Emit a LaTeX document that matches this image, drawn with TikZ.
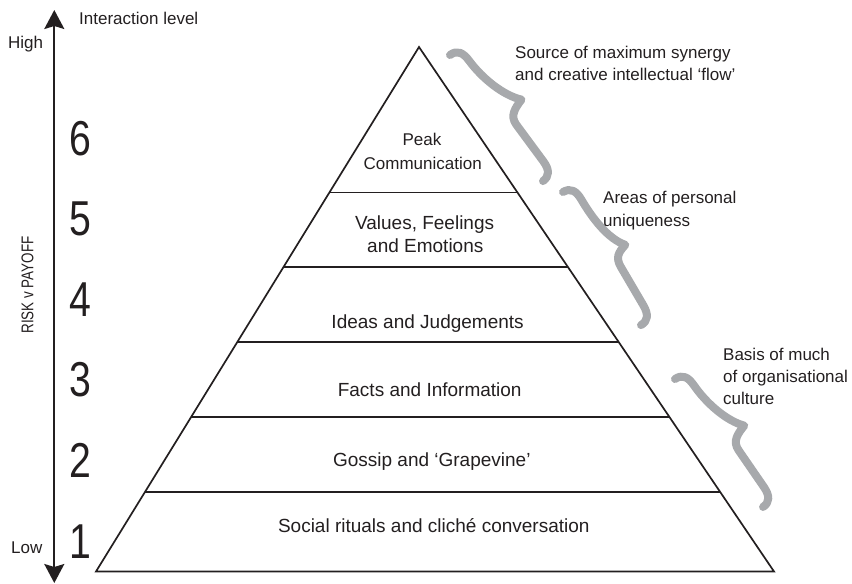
\documentclass[tikz,border=0pt]{standalone}
\usepackage{fontspec}
\setmainfont{Liberation Sans}
\usetikzlibrary{arrows.meta,calc}
\definecolor{ink}{HTML}{231F20}
\definecolor{bracegray}{HTML}{A7A9AC}
\newcommand\mybrace[2]{%
 \draw[bracestroke] (0,0) .. controls (0,9) and (6,12) .. (16,12)
   .. controls ({#1/2-40},12) and ({#1/2-14},{#2-12}) .. ({#1/2},#2)
   .. controls ({#1/2+3},{#2-10}) and ({#1/2+6},12) .. ({#1/2+17},12)
   -- ({#1-16},12) .. controls ({#1-5},12) and (#1,8) .. (#1,0);}
\tikzset{
 txt/.style={font=\fontsize{17}{20}\selectfont, text=ink, inner sep=0pt},
 bigtxt/.style={font=\fontsize{19}{22}\selectfont, text=ink, inner sep=0pt},
 digit/.style={font=\fontsize{49}{49}\selectfont, text=ink, inner sep=0pt, anchor=base},
 pyr/.style={draw=ink, line width=1.7pt, line join=miter},
 bracestroke/.style={draw=bracegray, line width=8pt, line cap=round, line join=round},
 axisline/.style={draw=ink, line width=2pt}
}
\begin{document}
\begin{tikzpicture}[x=1pt,y=-1pt]
\useasboundingbox (0,0) rectangle (852,584);
% axis
\coordinate (axtop) at (54.3,10);
\coordinate (axbot) at (54.3,583);
\draw[axisline,{Stealth[length=19pt,width=20pt,inset=3pt]}-{Stealth[length=19pt,width=20pt,inset=3pt]}] (axtop) -- (axbot);
\node[txt,anchor=base west] (ilevel) at (79,24) {Interaction level};
\node[txt,anchor=base west] (high) at (8,48.3) {High};
\node[txt,anchor=base west] (low) at (11,553.3) {Low};
\node[txt,anchor=base,rotate=90] (risk) at (33.3,285) {\scalebox{0.79}[1]{RISK v PAYOFF}};
% digits
\node[digit] (d6) at (80,155) {\scalebox{0.8}[1]{6}};
\node[digit] (d5) at (80,235.5) {\scalebox{0.8}[1]{5}};
\node[digit] (d4) at (80,316.5) {\scalebox{0.8}[1]{4}};
\node[digit] (d3) at (80,396.5) {\scalebox{0.8}[1]{3}};
\node[digit] (d2) at (80,477.5) {\scalebox{0.8}[1]{2}};
\node[digit] (d1) at (80,558.5) {\scalebox{0.8}[1]{1}};
% pyramid
\coordinate (apex) at (419,47);
\coordinate (bl) at (96,571.5);
\coordinate (br) at (774,571.5);
\draw[pyr] (apex) -- (bl) -- (br) -- cycle;
\foreach \t/\n in {0.2774/a,0.4200/b,0.5624/c,0.7054/d,0.8490/e}{
  \coordinate (l\n) at ($(apex)!\t!(bl)$);
  \coordinate (r\n) at ($(apex)!\t!(br)$);
  \draw[pyr] (l\n) -- (r\n);
}
% pyramid labels (x = band centre)
\node[txt,anchor=base] (peak1) at (421.9,145) {Peak};
\node[txt,anchor=base] (peak2) at (422.7,169.3) {Communication};
\node[bigtxt,anchor=base] (val1) at (424.6,229.5) {Values, Feelings};
\node[bigtxt,anchor=base] (val2) at (425.3,252.5) {and Emotions};
\node[bigtxt,anchor=base] (idea) at (427.6,328.5) {Ideas and Judgements};
\node[bigtxt,anchor=base] (fact) at (429.7,396.5) {Facts and Information};
\node[bigtxt,anchor=base] (goss) at (431.8,466.5) {Gossip and ‘Grapevine’};
\node[bigtxt,anchor=base] (soc) at (433.8,532.3) {Social rituals and cliché conversation};
% braces
\begin{scope}[shift={(450,55)},x={(0.594pt,-0.805pt)},y={(0.805pt,0.594pt)}]
 \mybrace{156.6}{31}
\end{scope}
\begin{scope}[shift={(563,192)},x={(0.506pt,-0.863pt)},y={(0.863pt,0.506pt)}]
 \mybrace{154.2}{27}
\end{scope}
\begin{scope}[shift={(675,379)},x={(0.567pt,-0.824pt)},y={(0.824pt,0.567pt)}]
 \mybrace{155.3}{30.6}
\end{scope}
% annotations
\node[txt,anchor=base west] (src1) at (515,58.3) {Source of maximum synergy};
\node[txt,anchor=base west] (src2) at (515,80.5) {and creative intellectual ‘flow’};
\node[txt,anchor=base west] (area1) at (603,203.3) {Areas of personal};
\node[txt,anchor=base west] (area2) at (603,226.5) {uniqueness};
\node[txt,anchor=base west] (bas1) at (723,360) {Basis of much};
\node[txt,anchor=base west] (bas2) at (723,382.3) {of organisational};
\node[txt,anchor=base west] (bas3) at (723,404.5) {culture};
\end{tikzpicture}
\end{document}
